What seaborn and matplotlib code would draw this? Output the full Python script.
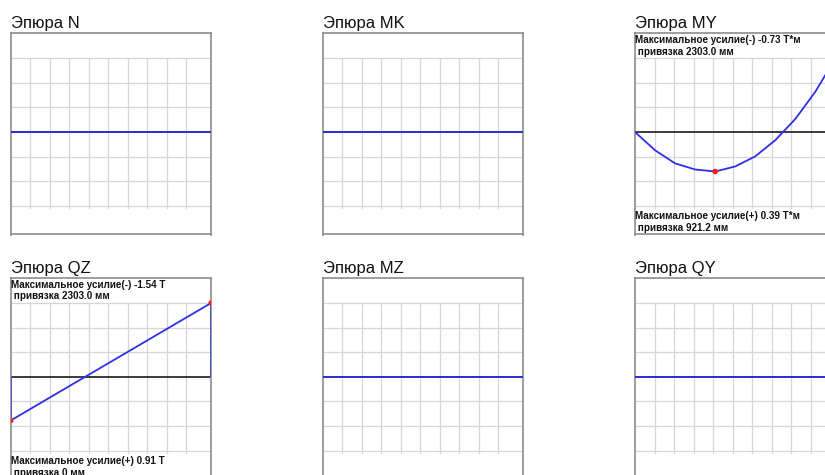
import matplotlib
matplotlib.use("Agg")
import matplotlib.pyplot as plt
import pandas as pd
import seaborn as sns

# Beam stations (mm) and internal force diagrams
beam_length = 2303.0
stations = [0.0, 230.3, 460.6, 690.9, 921.2, 1151.5, 1381.8, 1612.1, 1842.4, 2072.7, 2303.0]
ends = [0.0, 2303.0]

n_values = [0.0, 0.0]
mk_values = [0.0, 0.0]
my_values = [0.0, 0.18, 0.31, 0.37, 0.39, 0.34, 0.24, 0.08, -0.13, -0.40, -0.73]
qz_values = [0.91, -1.54]
mz_values = [0.0, 0.0]
qy_values = [0.0, 0.0]

titles = ["Эпюра N", "Эпюра MK", "Эпюра MY", "Эпюра QZ", "Эпюра MZ", "Эпюра QY"]

# Extremes: (value, position mm) for the negative and positive maximum
my_neg = (-0.73, 2303.0)
my_pos = (0.39, 921.2)
qz_neg = (-1.54, 2303.0)
qz_pos = (0.91, 0.0)

panels = [
    dict(title=titles[0], x=ends, y=n_values, extremes=None, unit=""),
    dict(title=titles[1], x=ends, y=mk_values, extremes=None, unit=""),
    dict(title=titles[2], x=stations, y=my_values, extremes=(my_neg, my_pos), unit="Т*м"),
    dict(title=titles[3], x=ends, y=qz_values, extremes=(qz_neg, qz_pos), unit="Т"),
    dict(title=titles[4], x=ends, y=mz_values, extremes=None, unit=""),
    dict(title=titles[5], x=ends, y=qy_values, extremes=None, unit=""),
]

sns.set_theme(style="white")
plt.rcParams["font.family"] = ["Liberation Sans", "DejaVu Sans"]

W, H = 825, 475
fig = plt.figure(figsize=(W / 100, H / 100), dpi=100)

col_left = [10.7, 322.7, 635.0]
row_top = [33.5, 278.3]
box_w, box_h = 200.5, 201.0

line_blue = "#2f2fe6"
grid_col = "#d6d6d6"
frame_col = "#8c8c8c"

for idx, p in enumerate(panels):
    r, c = divmod(idx, 3)
    left = col_left[c] / W
    bottom = 1 - (row_top[r] + box_h) / H
    ax = fig.add_axes([left, bottom, box_w / W, box_h / H])

    vals = p["y"]
    vmax = max(abs(v) for v in vals)
    step = vmax / 3 if vmax > 0 else 1.0

    # diagram outline: closed to the beam axis at both ends
    xs = [p["x"][0]] + list(p["x"]) + [p["x"][-1]]
    ys = [0.0] + list(vals) + [0.0]
    df = pd.DataFrame({"x": xs, "y": ys})

    # grid
    for k in (-3, -2, -1, 1, 2, 3):
        ax.axhline(k * step, color=grid_col, lw=0.9, zorder=1)
    grid_dx = 0.0973 * beam_length
    for k in range(1, 10):
        ax.plot([k * grid_dx, k * grid_dx], [-3 * step, 3.08 * step],
                color=grid_col, lw=0.9, zorder=1)
    ax.axhline(0, color="#1a1a1a", lw=1.2, zorder=2)

    sns.lineplot(data=df, x="x", y="y", sort=False, estimator=None,
                 color=line_blue, lw=1.3, ax=ax, zorder=3)

    if p["extremes"] is not None:
        (nv, nx), (pv, px) = p["extremes"]
        pts = pd.DataFrame({"x": [nx, px], "y": [nv, pv]})
        sns.scatterplot(data=pts, x="x", y="y", color="#ff1a1a", s=16,
                        edgecolor="none", ax=ax, zorder=4)
        unit = p["unit"]
        fs = 7.1
        ax.text(0.0, 0.968, f"Максимальное усилие(-) {nv:.2f} {unit}",
                transform=ax.transAxes, ha="left", va="center",
                fontsize=fs, fontweight="bold", color="#111111", zorder=5)
        ax.text(0.0, 0.910, f" привязка {nx:.1f} мм",
                transform=ax.transAxes, ha="left", va="center",
                fontsize=fs, fontweight="bold", color="#111111", zorder=5)
        ax.text(0.0, 0.0896, f"Максимальное усилие(+) {pv:.2f} {unit}",
                transform=ax.transAxes, ha="left", va="center",
                fontsize=fs, fontweight="bold", color="#111111", zorder=5)
        pos_txt = f"{px:.1f}" if px != 0 else "0"
        ax.text(0.0, 0.033, f" привязка {pos_txt} мм",
                transform=ax.transAxes, ha="left", va="center",
                fontsize=fs, fontweight="bold", color="#111111", zorder=5)

    ax.set_xlim(0, beam_length)
    ax.set_ylim(4.16 * step, -4.0 * step)  # positive values drawn downward
    ax.set_xticks([])
    ax.set_yticks([])
    ax.set_xlabel("")
    ax.set_ylabel("")
    for s in ax.spines.values():
        s.set_color(frame_col)
        s.set_linewidth(1.2)
        s.set_visible(True)

    ax.text(0.0, 1 + 5.5 / box_h, p["title"], transform=ax.transAxes,
            ha="left", va="baseline", fontsize=12, color="#111111")

fig.savefig("out.png", dpi=100, facecolor="white")
